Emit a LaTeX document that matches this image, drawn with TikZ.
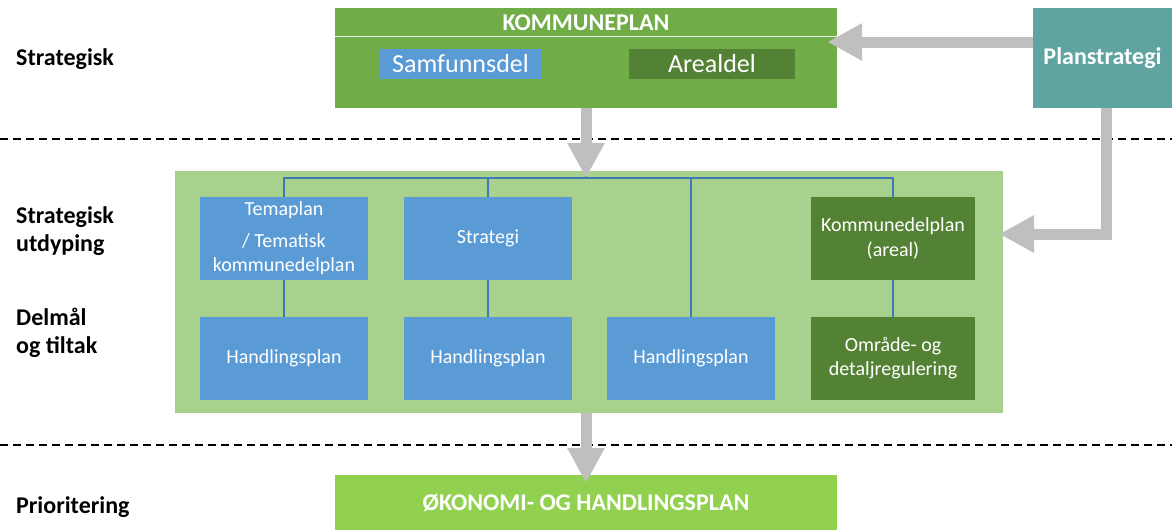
\documentclass[tikz,border=0pt]{standalone}
\usepackage{fontspec}
\setmainfont{Carlito}
\usetikzlibrary{arrows.meta,positioning,calc}

\definecolor{kpgreen}{HTML}{70AD47}
\definecolor{lightgreen}{HTML}{A9D18E}
\definecolor{darkgreen}{HTML}{548235}
\definecolor{okogreen}{HTML}{92D050}
\definecolor{planblue}{HTML}{5B9BD5}
\definecolor{teal}{HTML}{5FA4A0}
\definecolor{treeblue}{HTML}{3E78B5}
\definecolor{arrgray}{HTML}{BFBFBF}

\begin{document}
\begin{tikzpicture}[
  x=1pt, y=-1pt,
  font=\fontsize{20}{24.5}\selectfont,
  box/.style    ={inner sep=2pt,outer sep=0pt,align=center,text=white,fill=planblue,minimum width=168pt,minimum height=83pt},
  greenbox/.style={box,fill=darkgreen,minimum width=164pt},
  bar/.style    ={inner sep=0pt,outer sep=0pt,text=white,font=\fontsize{24}{28}\selectfont\bfseries},
  part/.style   ={inner sep=0pt,outer sep=0pt,text=white,minimum height=30pt,font=\fontsize{26}{30}\selectfont},
  level/.style  ={anchor=west,align=left,inner sep=0pt,font=\fontsize{24}{28.5}\selectfont\bfseries},
  tree/.style   ={draw=treeblue,line width=2pt},
  arrow/.style  ={-{Triangle[length=35pt,width=35pt]},line width=11pt,draw=arrgray},
  divider/.style={line width=1.6pt,dash pattern=on 8pt off 5pt}
]
\useasboundingbox (0,0) rectangle (1172,530);

% ==================================================
% LEVEL LABELS + DIVIDERS
% ==================================================
\node[level] (lstrat) at (16,59)    {Strategisk};
\node[level] (lutd)   at (16,231)   {Strategisk\\utdyping};
\node[level] (ldelm)  at (16,333)   {Delmål\\og tiltak};
\node[level] (lprio)  at (16,507)   {Prioritering};

\coordinate (d1w) at (0,139);   \coordinate (d1e) at (1172,139);
\coordinate (d2w) at (0,445);   \coordinate (d2e) at (1172,445);
\draw[divider] (d1w) -- (d1e);
\draw[divider] (d2w) -- (d2e);

% ==================================================
% TOP: kommuneplan + planstrategi
% ==================================================
\node[fill=kpgreen, minimum width=502pt, minimum height=100pt, inner sep=0pt] (komm) at (586,58) {};
\node[bar] (kommtitle) at (586,23) {KOMMUNEPLAN};
\draw[white!85!kpgreen, line width=1pt] ([yshift=-29pt]komm.north west) -- ([yshift=-29pt]komm.north east);
\node[part, fill=planblue,  minimum width=161pt] (samf)  at (460.5,64) {Samfunnsdel};
\node[part, fill=darkgreen, minimum width=166pt] (areal) at (712,64)   {Arealdel};

\node[bar, fill=teal, minimum width=139pt, minimum height=100pt] (plan) at (1102.5,58) {Planstrategi};

% ==================================================
% MIDDLE: frame, tree, boxes
% ==================================================
\node[fill=lightgreen, minimum width=828pt, minimum height=242pt, inner sep=0pt] (frame) at (589,292) {};

\coordinate (treein) at (586,178);

\node[box] (tema)  at (284,238.5) {Temaplan\\[7pt]/ Tematisk\\kommunedelplan};
\node[box] (strat) at (488,238.5) {Strategi};
\node[greenbox] (kdp) at (893,238.5) {Kommunedelplan\\(areal)};

\node[box] (hp1) at (284,358) {Handlingsplan};
\node[box] (hp2) at (488,358) {Handlingsplan};
\node[box] (hp3) at (691,358) {Handlingsplan};
\node[greenbox] (omr) at (893,358) {Område- og\\detaljregulering};

\draw[tree] (tema.north) |- (kdp.north |- treein) -- (kdp.north);
\draw[tree] (strat.north) -- (strat.north |- treein);
\draw[tree] (hp3.north) -- (hp3.north |- treein);
\draw[tree] (treein) -- (treein |- frame.north);
\draw[tree] (tema.south) -- (hp1.north);
\draw[tree] (strat.south) -- (hp2.north);
\draw[tree] (kdp.south) -- (omr.north);

% ==================================================
% BOTTOM: okonomiplan
% ==================================================
\node[bar, fill=okogreen, minimum width=502pt, minimum height=55pt] (oko) at (586,502.5) {ØKONOMI- OG HANDLINGSPLAN};

% ==================================================
% GRAY FLOW ARROWS
% ==================================================
\coordinate (kdpin) at (999,234);
\draw[arrow] ([yshift=16pt]plan.west) -- ([xshift=-10pt,yshift=16pt]komm.east);
\draw[arrow] ([xshift=3.5pt]plan.south) |- (kdpin);
\draw[arrow] (komm.south) -- (treein);
\draw[arrow] (frame.south -| oko.north) -- ([yshift=-8pt]oko.north);

\end{tikzpicture}
\end{document}
